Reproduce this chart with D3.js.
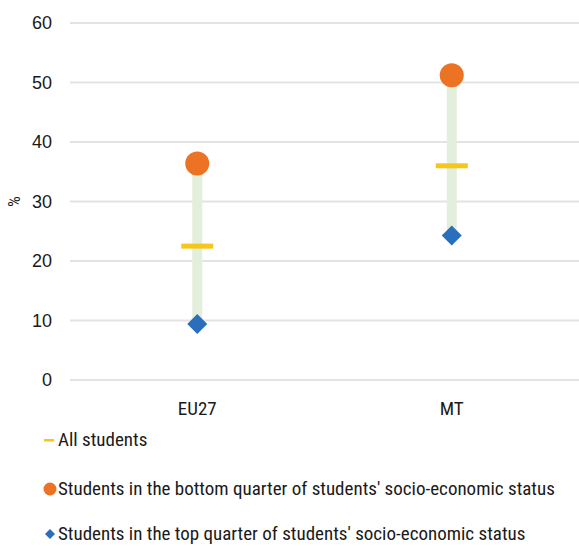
<!DOCTYPE html>
<html><head><meta charset="utf-8">
<script src="https://cdn.jsdelivr.net/npm/d3@7"></script>
<style>body{margin:0;background:#fff}text{font-family:"Roboto Condensed","Liberation Sans Narrow",sans-serif;fill:#1a1a1a}text.num{font-family:"Liberation Sans",Arial,sans-serif}</style>
</head><body><svg id="c" width="579" height="546"></svg>
<script>
const categories = ["EU27", "MT"];
const allStudents = [22.5, 36.0];
const bottomQuarter = [36.4, 51.2];
const topQuarter = [9.4, 24.3];
const yTicks = [0, 10, 20, 30, 40, 50, 60];
const legendLabels = ["All students", "Students in the bottom quarter of students' socio-economic status", "Students in the top quarter of students' socio-economic status"];

const svg = d3.select("#c");
const x = d3.scaleBand().domain(categories).range([70, 579]);
const y = d3.scaleLinear().domain([0, 60]).range([380, 23]);
const orange = "#eb7323", blue = "#2a6fbd", yellow = "#f6c61b", green = "#e3eedb";

// grid
const g = svg.append("g");
g.selectAll("line.grid").data(yTicks).join("line")
  .attr("x1", 70).attr("x2", 579).attr("y1", d => y(d)).attr("y2", d => y(d))
  .attr("stroke", "#e3e3e3").attr("stroke-width", 2);
g.selectAll("text.yt").data(yTicks).join("text").attr("class", "num")
  .attr("x", 52).attr("y", d => y(d)).attr("dy", "0.35em").attr("text-anchor", "end")
  .attr("font-size", 18).text(d => d);
svg.append("text").attr("transform", "translate(20," + y(30) + ") rotate(-90)")
  .attr("text-anchor", "middle").attr("font-size", 17).text("%");

// x labels
svg.selectAll("text.xl").data(categories).join("text")
  .attr("x", d => x(d) + x.bandwidth() / 2).attr("y", 415)
  .attr("text-anchor", "middle").attr("font-size", 19).text(d => d);

const cx = i => x(categories[i]) + x.bandwidth() / 2;
// range lines
svg.selectAll("line.rng").data(categories).join("line")
  .attr("x1", (d, i) => cx(i)).attr("x2", (d, i) => cx(i))
  .attr("y1", (d, i) => y(bottomQuarter[i])).attr("y2", (d, i) => y(topQuarter[i]))
  .attr("stroke", green).attr("stroke-width", 10);
// all students
svg.selectAll("rect.all").data(allStudents).join("rect")
  .attr("x", (d, i) => cx(i) - 16).attr("y", d => y(d) - 2.5).attr("width", 32).attr("height", 5)
  .attr("fill", yellow);
// bottom
svg.selectAll("circle.bot").data(bottomQuarter).join("circle")
  .attr("cx", (d, i) => cx(i)).attr("cy", d => y(d)).attr("r", 12).attr("fill", orange);
// top
const dia = d3.symbol().type(d3.symbolSquare).size(200);
svg.selectAll("path.top").data(topQuarter).join("path")
  .attr("d", dia).attr("transform", (d, i) => `translate(${cx(i)},${y(d)}) rotate(45)`).attr("fill", blue);

// legend
const ly = [440, 489, 534];
svg.append("rect").attr("x", 44).attr("y", ly[0] - 1).attr("width", 10).attr("height", 2.5).attr("fill", yellow);
svg.append("circle").attr("cx", 50).attr("cy", ly[1]).attr("r", 6.5).attr("fill", orange);
svg.append("path").attr("d", d3.symbol().type(d3.symbolSquare).size(50)).attr("transform", `translate(50,${ly[2]}) rotate(45)`).attr("fill", blue);
svg.selectAll("text.lg").data(legendLabels).join("text")
  .attr("x", 58).attr("y", (d, i) => ly[i] + 6).attr("font-size", 19).text(d => d);
</script></body></html>
